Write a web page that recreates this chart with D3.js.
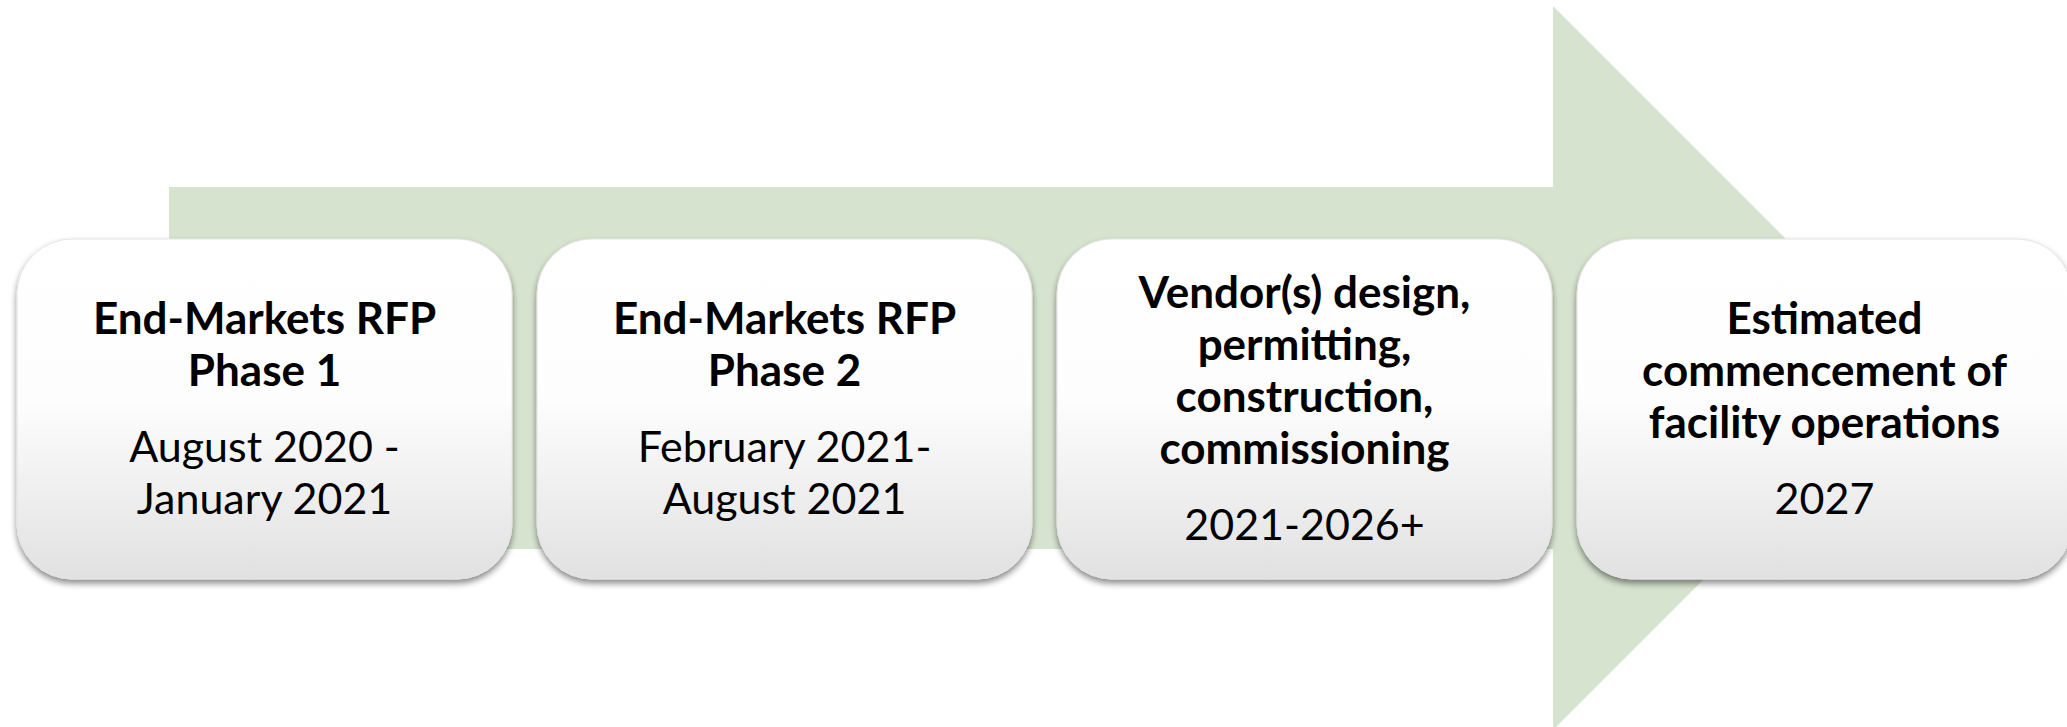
<!DOCTYPE html>
<html>
<head>
<meta charset="utf-8">
<script src="https://cdn.jsdelivr.net/npm/d3@7"></script>
<style>
  html, body { margin: 0; padding: 0; background: #fff; overflow: hidden; }
  svg { display: block; }
</style>
</head>
<body>
<svg id="chart"></svg>
<script>
// stages of the timeline, left to right
const stages = ['phase1', 'phase2', 'build', 'operate'];

// bold heading of each box, already split into lines
const titles = [
    ['End-Markets RFP', 'Phase 1'],
    ['End-Markets RFP', 'Phase 2'],
    ['Vendor(s) design,', 'permitting,', 'construction,', 'commissioning'],
    ['Estimated', 'commencement of', 'facility operations']
];

// dates under each heading
const dates = [
    ['August 2020 -', 'January 2021'],
    ['February 2021-', 'August 2021'],
    ['2021-2026+'],
    ['2027']
];

const width = 2067;
const height = 727;

const boxTop = 239;
const boxBottom = 579;
const boxRadius = 55;
const lineStep = 52;     // between lines of the same block
const blockGap = 76;     // last heading line -> first date line

const arrowColor = '#d6e3cf';

const svg = d3.select('#chart')
    .attr('width', width)
    .attr('height', height)
    .attr('viewBox', [0, 0, width, height]);

const defs = svg.append('defs');

const grad = defs.append('linearGradient')
    .attr('id', 'boxFill')
    .attr('x1', 0).attr('y1', 0)
    .attr('x2', 0).attr('y2', 1);
grad.append('stop').attr('offset', '0%').attr('stop-color', '#ffffff');
grad.append('stop').attr('offset', '48%').attr('stop-color', '#fdfdfd');
grad.append('stop').attr('offset', '100%').attr('stop-color', '#e1e1e1');

const shadow = defs.append('filter')
    .attr('id', 'shadow')
    .attr('x', '-10%').attr('y', '-10%')
    .attr('width', '120%').attr('height', '130%');
shadow.append('feDropShadow')
    .attr('dx', 0)
    .attr('dy', 4)
    .attr('stdDeviation', 3)
    .attr('flood-color', '#000')
    .attr('flood-opacity', 0.45);

// horizontal position of each box
const x = d3.scaleBand()
    .domain(stages)
    .range([17, 2072])
    .paddingInner(25 / 520)
    .paddingOuter(0);

// vertical scale for the big arrow: 0 = top of head, 1 = bottom of head
const y = d3.scaleLinear()
    .domain([0, 1])
    .range([6, 730]);

const shaftTop = 187;
const shaftBottom = 549;
const shaftStart = x('phase1') + 152;
const neck = x('build') + x.bandwidth() + 1;
const mid = y(0.5);
const tip = neck + (mid - y(0));

// background arrow
const arrowPath = d3.path();
arrowPath.moveTo(shaftStart, shaftTop);
arrowPath.lineTo(neck, shaftTop);
arrowPath.lineTo(neck, y(0));
arrowPath.lineTo(tip, mid);
arrowPath.lineTo(neck, y(1));
arrowPath.lineTo(neck, shaftBottom);
arrowPath.lineTo(shaftStart, shaftBottom);
arrowPath.closePath();

svg.append('path')
    .attr('d', arrowPath.toString())
    .attr('fill', arrowColor);

// boxes
const boxes = svg.append('g')
    .selectAll('g')
    .data(stages)
    .join('g')
    .attr('transform', d => `translate(${x(d)},${boxTop})`);

boxes.append('rect')
    .attr('width', x.bandwidth())
    .attr('height', boxBottom - boxTop)
    .attr('rx', boxRadius)
    .attr('ry', boxRadius)
    .attr('fill', 'url(#boxFill)')
    .attr('stroke', '#e4e4e4')
    .attr('stroke-width', 1)
    .attr('filter', 'url(#shadow)');

// text blocks, centred in each box
boxes.each(function(d, i) {
    const g = d3.select(this);
    const t = titles[i];
    const dt = dates[i];
    const total = (t.length - 1) * lineStep + blockGap + (dt.length - 1) * lineStep;
    const cx = x.bandwidth() / 2;
    let cy = (boxBottom - boxTop) / 2 - 2 - total / 2;

    const lines = [];
    t.forEach((s, k) => {
        lines.push({ text: s, bold: true, y: cy });
        if (k < t.length - 1) cy += lineStep;
    });
    cy += blockGap;
    dt.forEach((s, k) => {
        lines.push({ text: s, bold: false, y: cy });
        cy += lineStep;
    });

    g.selectAll('text')
        .data(lines)
        .join('text')
        .attr('x', cx)
        .attr('y', l => l.y)
        .attr('text-anchor', 'middle')
        .attr('dominant-baseline', 'central')
        .attr('font-family', 'Lato, "Open Sans", sans-serif')
        .attr('font-weight', l => l.bold ? 700 : 400)
        .attr('font-size', l => l.bold ? 44 : 43)
        .attr('fill', '#000')
        .text(l => l.text);
});
</script>
</body>
</html>
